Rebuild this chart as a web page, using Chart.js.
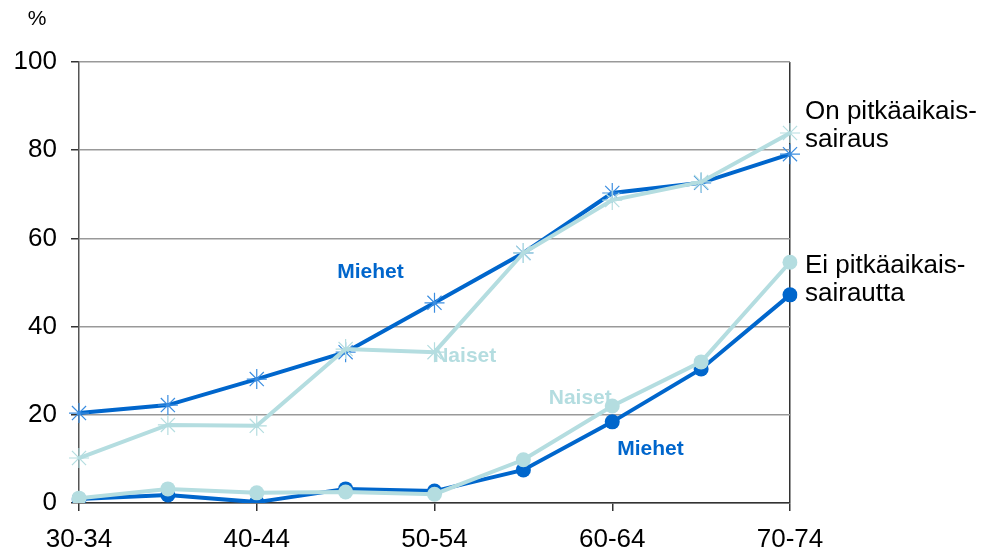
<!DOCTYPE html>
<html>
<head>
<meta charset="utf-8">
<script src="https://cdn.jsdelivr.net/npm/chart.js@4/dist/chart.umd.min.js"></script>
<style>
  body { margin: 0; background: #fff; }
  #wrap { width: 992px; height: 558px; }
</style>
</head>
<body>
<div id="wrap"><canvas id="chart"></canvas></div>
<script>
// age groups and shares (%)
const ageGroups = ['30-34', '35-39', '40-44', '45-49', '50-54', '55-59', '60-64', '65-69', '70-74'];
const menIll = [20.4, 22.2, 28.1, 34.2, 45.4, 56.7, 70.3, 72.6, 79.1];
const womenIll = [10.2, 17.7, 17.5, 34.9, 34.2, 56.7, 68.7, 72.8, 83.9];
const menHealthy = [0.9, 1.8, 0.2, 3.2, 2.7, 7.5, 18.4, 30.4, 47.2];
const womenHealthy = [1.1, 3.2, 2.3, 2.5, 2.0, 9.8, 22.0, 32.0, 54.6];
const yTicks = [0, 20, 40, 60, 80, 100];

const dark = '#0066cc';
const light = '#b4dde0';

// in-plot labels: [text, x (category index), y (%), colour]
const lineLabels = [
    ['Miehet', 3.28, 52.4, dark],
    ['Naiset', 4.34, 33.3, light],
    ['Naiset', 5.64, 23.8, light],
    ['Miehet', 6.43, 12.2, dark]
];
const sideLabels = [
    [['On pitkäaikais-', 'sairaus'], 85.5],
    [['Ei pitkäaikais-', 'sairautta'], 50.7]
];

const textPlugin = {
    id: 'texts',
    afterDraw(chart) {
        const c = chart.ctx;
        const xs = chart.scales.x, ys = chart.scales.y;
        c.save();
        c.textAlign = 'center';
        c.textBaseline = 'middle';
        c.font = 'bold 21px "Liberation Sans", Arial, sans-serif';
        lineLabels.forEach(function (l) {
            const px = xs.left + (xs.right - xs.left) * l[1] / (ageGroups.length - 1);
            c.fillStyle = l[3];
            c.fillText(l[0], px, ys.getPixelForValue(l[2]));
        });
        c.fillStyle = '#000';
        c.textAlign = 'left';
        c.font = '26px "Liberation Sans", Arial, sans-serif';
        sideLabels.forEach(function (s) {
            const y0 = ys.getPixelForValue(s[1]);
            c.fillText(s[0][0], chart.chartArea.right + 15, y0 - 14);
            c.fillText(s[0][1], chart.chartArea.right + 15, y0 + 14);
        });
        c.textAlign = 'center';
        c.font = '21px "Liberation Sans", Arial, sans-serif';
        c.fillText('%', 37, 19);
        c.restore();
    }
};

const ctx = document.getElementById('chart').getContext('2d');
const chart = new Chart(ctx, {
    type: 'line',
    data: {
        labels: ageGroups,
        datasets: [
            {
                label: 'Naiset, on pitkäaikaissairaus',
                data: womenIll,
                borderColor: light,
                backgroundColor: light,
                borderWidth: 4,
                pointStyle: 'star',
                pointRadius: 10,
                pointBorderWidth: 1.2,
                pointBorderColor: light
            },
            {
                label: 'Naiset, ei pitkäaikaissairautta',
                data: womenHealthy,
                borderColor: light,
                backgroundColor: light,
                borderWidth: 4,
                pointStyle: 'circle',
                pointRadius: 7.5,
                pointBorderWidth: 0
            },
            {
                label: 'Miehet, on pitkäaikaissairaus',
                data: menIll,
                borderColor: dark,
                backgroundColor: dark,
                borderWidth: 4,
                pointStyle: 'star',
                pointRadius: 10,
                pointBorderWidth: 1.2,
                pointBorderColor: '#3b8de0'
            },
            {
                label: 'Miehet, ei pitkäaikaissairautta',
                data: menHealthy,
                borderColor: dark,
                backgroundColor: dark,
                borderWidth: 4,
                pointStyle: 'circle',
                pointRadius: 7.5,
                pointBorderWidth: 0
            }
        ]
    },
    options: {
        responsive: true,
        maintainAspectRatio: false,
        animation: false,
        layout: { padding: { top: 62, right: 202, left: 0, bottom: 0 } },
        plugins: {
            legend: { display: false },
            tooltip: { enabled: false }
        },
        scales: {
            x: {
                offset: false,
                afterFit: function (scale) { scale.height = 55; },
                grid: {
                    color: function (c) { return c.index === ageGroups.length - 1 ? '#333' : 'rgba(0,0,0,0)'; },
                    lineWidth: 1.5,
                    tickColor: function (c) { return c.index % 2 === 0 ? '#333' : 'rgba(0,0,0,0)'; },
                    tickLength: 8
                },
                border: { display: true, color: '#333', width: 1.5 },
                ticks: {
                    autoSkip: false,
                    maxRotation: 0,
                    padding: 13,
                    color: '#000',
                    font: { family: '"Liberation Sans", Arial, sans-serif', size: 26 },
                    callback: function (v, i) { return i % 2 === 0 ? ageGroups[i] : ''; }
                }
            },
            y: {
                min: 0,
                max: 100,
                afterFit: function (scale) { scale.width = 79; },
                afterBuildTicks: function (scale) {
                    scale.ticks = yTicks.map(function (v) { return { value: v }; });
                },
                grid: {
                    color: '#999',
                    lineWidth: 1.5,
                    tickColor: '#333',
                    tickLength: 8
                },
                border: { display: true, color: '#555', width: 1.5 },
                ticks: {
                    padding: 14,
                    color: '#000',
                    font: { family: '"Liberation Sans", Arial, sans-serif', size: 26 }
                }
            }
        }
    },
    plugins: [textPlugin]
});
</script>
</body>
</html>
